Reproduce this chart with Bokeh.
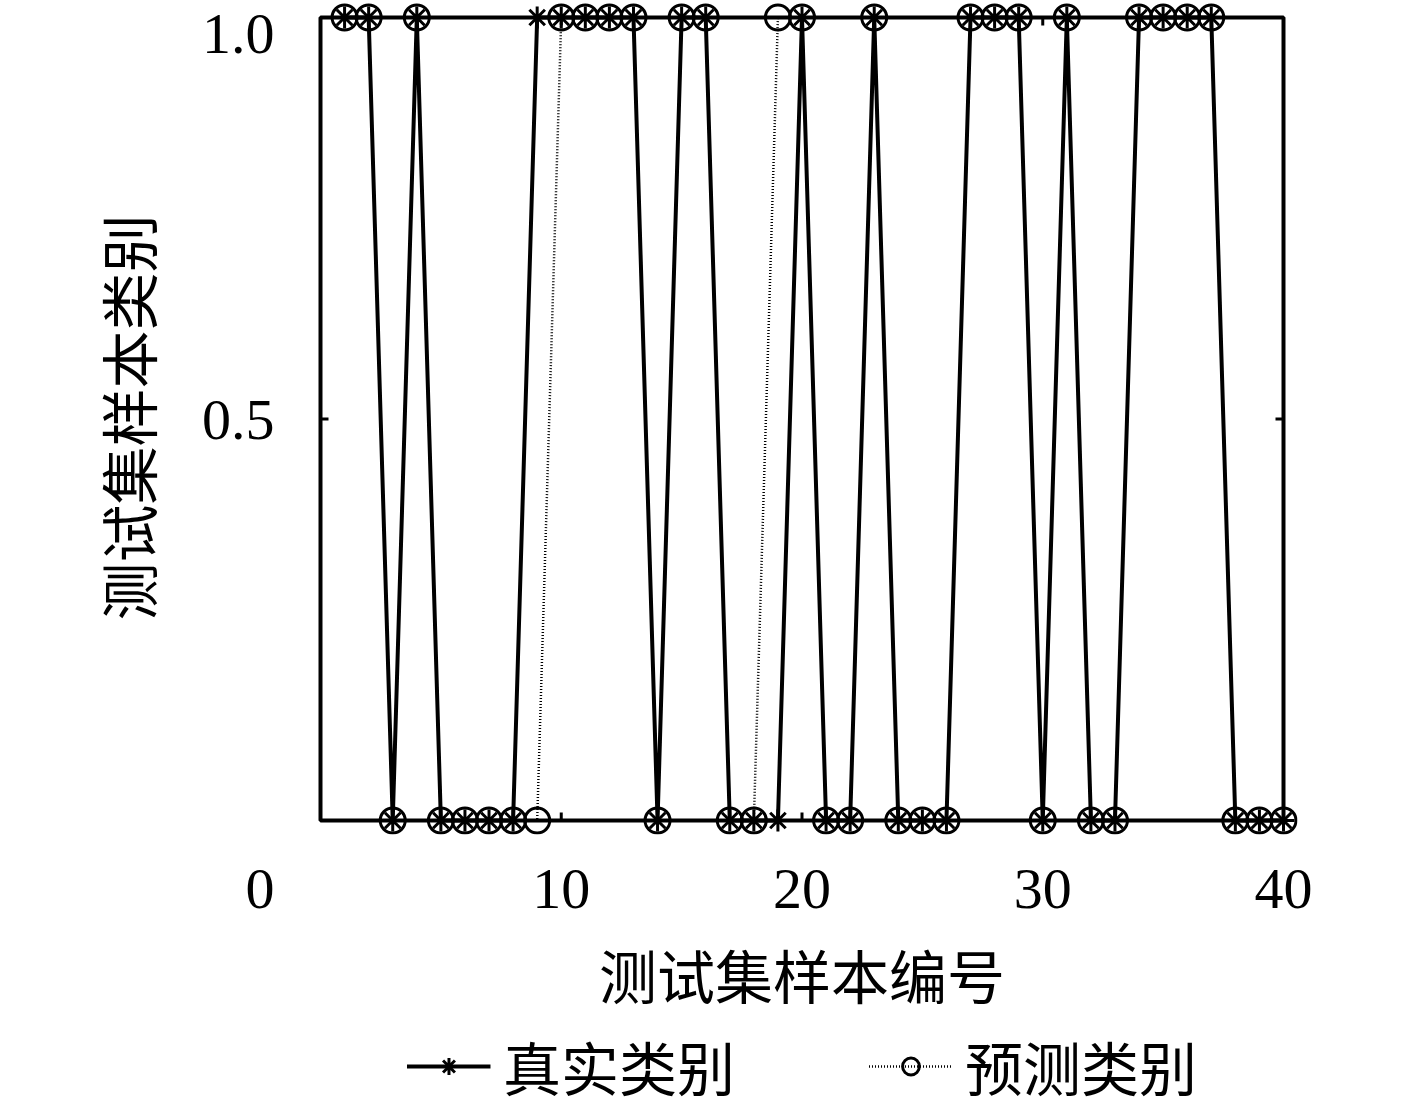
from bokeh.plotting import figure
from bokeh.models import Range1d, FixedTicker, Legend, LegendItem
from bokeh.layouts import column
from bokeh.embed import file_html
from bokeh.resources import INLINE

# ---- data ----
sample_ids = list(range(1, 41))
true_class = [1, 1, 0, 1, 0, 0, 0, 0, 1, 1,
              1, 1, 1, 0, 1, 1, 0, 0, 0, 1,
              0, 0, 1, 0, 0, 0, 1, 1, 1, 0,
              1, 0, 0, 1, 1, 1, 1, 0, 0, 0]
pred_class = [1, 1, 0, 1, 0, 0, 0, 0, 0, 1,
              1, 1, 1, 0, 1, 1, 0, 0, 1, 1,
              0, 0, 1, 0, 0, 0, 1, 1, 1, 0,
              1, 0, 0, 1, 1, 1, 1, 0, 0, 0]
x_ticks = [0, 10, 20, 30, 40]
x_tick_labels = ["", "10", "20", "30", "40"]
y_ticks = [0, 0.5, 1]
y_tick_labels = ["\n\n0", "0.5", "1.0"]
x_label = "测试集样本编号"
y_label = "测试集样本类别"
legend_labels = ["真实类别", "预测类别"]

CJK = "Noto Sans CJK SC"
NUM = "Liberation Serif"

# frame is a little larger than the data box so edge markers are not cut
px_x = 963 / 40.0          # pixels per x unit
px_y = 803 / 1.0           # pixels per y unit
pad_l, pad_r, pad_t, pad_b = 14, 14, 17, 14
xmin, xmax = x_ticks[0], x_ticks[-1]
ymin, ymax = y_ticks[0], y_ticks[-1]

p = figure(width=1417, height=1022, output_backend="svg", toolbar_location=None,
           x_range=Range1d(xmin - pad_l / px_x, xmax + pad_r / px_x),
           y_range=Range1d(ymin - pad_b / px_y, ymax + pad_t / px_y),
           min_border_left=306, min_border_right=120, min_border_top=0,
           min_border_bottom=188, background_fill_color="white",
           border_fill_color="white", outline_line_color=None)
p.grid.visible = False

for ax in (p.xaxis[0], p.yaxis[0]):
    ax.axis_line_color = None
    ax.major_tick_line_color = None
    ax.minor_tick_line_color = None
    ax.major_tick_in = 0
    ax.major_tick_out = 0
    ax.major_label_text_font = NUM
    ax.major_label_text_font_size = "58px"
    ax.major_label_text_color = "black"
    ax.axis_label_text_font = CJK
    ax.axis_label_text_font_size = "58px"
    ax.axis_label_text_font_style = "normal"
    ax.axis_label_text_color = "black"

xa = p.xaxis[0]
xa.ticker = FixedTicker(ticks=x_ticks)
xa.major_label_overrides = {t: l for t, l in zip(x_ticks, x_tick_labels)}
xa.major_label_standoff = 35
xa.axis_label = x_label
xa.axis_label_standoff = 21

ya = p.yaxis[0]
ya.ticker = FixedTicker(ticks=y_ticks)
ya.major_label_overrides = {t: l for t, l in zip(y_ticks, y_tick_labels)}
ya.major_label_standoff = 32
ya.major_label_text_line_height = 1.04
ya.axis_label = y_label
ya.axis_label_standoff = 30

# ---- box and inward ticks ----
p.quad(left=[xmin], right=[xmax], bottom=[ymin], top=[ymax],
       fill_color=None, line_color="black", line_width=4)
tick_len = 8
inner_x = x_ticks[1:-1]
p.segment(x0=inner_x, y0=[ymin] * len(inner_x), x1=inner_x,
          y1=[ymin + tick_len / px_y] * len(inner_x), line_color="black", line_width=3)
p.segment(x0=inner_x, y0=[ymax] * len(inner_x), x1=inner_x,
          y1=[ymax - tick_len / px_y] * len(inner_x), line_color="black", line_width=3)
inner_y = y_ticks[1:-1]
p.segment(x0=[xmin] * len(inner_y), y0=inner_y, x1=[xmin + tick_len / px_x] * len(inner_y),
          y1=inner_y, line_color="black", line_width=3)
p.segment(x0=[xmax] * len(inner_y), y0=inner_y, x1=[xmax - tick_len / px_x] * len(inner_y),
          y1=inner_y, line_color="black", line_width=3)

# ---- series ----
def draw_series(fig):
    lt = fig.line(sample_ids, true_class, line_color="black", line_width=4)
    lp = fig.line(sample_ids, pred_class, line_color="black", line_width=2.5,
                  line_dash="1 2")
    st = fig.scatter(sample_ids, true_class, marker="asterisk", size=22,
                     line_color="black", line_width=3)
    sp = fig.scatter(sample_ids, pred_class, marker="circle", size=25,
                     line_color="black", line_width=3, fill_color=None)
    return lt, lp, st, sp

draw_series(p)

# ---- legend strip (series drawn off-view so only the legend shows) ----
q = figure(width=1417, height=88, output_backend="svg", toolbar_location=None,
           x_range=Range1d(100, 101), y_range=Range1d(100, 101),
           x_axis_type=None, y_axis_type=None,
           min_border_left=193, min_border_right=0, min_border_top=0,
           min_border_bottom=0, outline_line_color=None,
           background_fill_color="white", border_fill_color="white")
q.grid.visible = False
lt, lp, st, sp = draw_series(q)
legend = Legend(items=[LegendItem(label=legend_labels[0], renderers=[lt, st]),
                       LegendItem(label=legend_labels[1], renderers=[lp, sp])],
                orientation="horizontal", location="center",
                glyph_width=84, glyph_height=42, label_standoff=13, spacing=133,
                padding=0, margin=0, border_line_color=None,
                background_fill_alpha=0,
                label_text_font=CJK, label_text_font_size="58px",
                label_text_color="black")
q.add_layout(legend)

layout = column(p, q, spacing=0)
open("out.html", "w").write(file_html(layout, INLINE))
